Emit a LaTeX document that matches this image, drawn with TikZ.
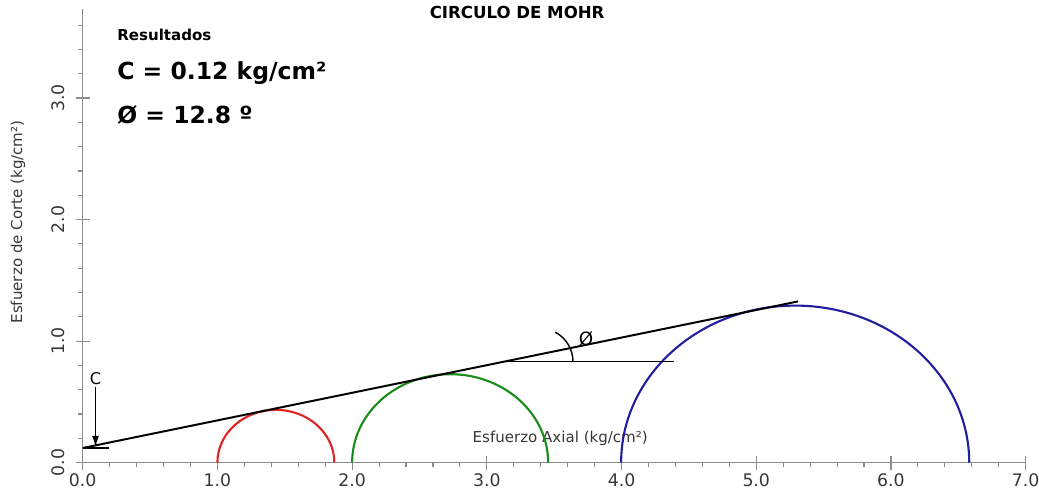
\documentclass[tikz,border=0pt]{standalone}
\usepackage{fontspec}
\setmainfont{DejaVu Sans}
\usetikzlibrary{positioning,arrows.meta}
\definecolor{axisgray}{RGB}{140,140,140}
\definecolor{labgray}{RGB}{55,55,55}
\definecolor{mohrred}{RGB}{225,35,35}
\definecolor{mohrgreen}{RGB}{25,140,25}
\definecolor{mohrblue}{RGB}{35,30,160}
\tikzset{
ticklab/.style={text=labgray,inner sep=0pt,
  font=\fontsize{12.3}{14}\selectfont},
axlab/.style={text=labgray,inner sep=0pt,
  font=\fontsize{10.7}{13}\selectfont},
reslab/.style={inner sep=0pt,anchor=west,
  font=\bfseries\fontsize{16.7}{20}\selectfont},
mohr/.style={line width=1.5pt},
axisline/.style={axisgray,line width=0.8pt}
}

\begin{document}
\begin{tikzpicture}[x=3.3675cm,y=3.0375cm,>={Latex[length=8pt,width=5pt]}]
\useasboundingbox (-0.614,-0.243) rectangle (7.099,3.807);
% axes
\draw[axisline] (0,0) -- (7,0);
\draw[axisline] (0,0) -- (0,3.73);
\foreach \i in {1,...,35}
  \draw[axisline] (\i/5,0) -- ++(0,-3pt);
\foreach \i in {1,...,18}
  \draw[axisline] (0,\i/5) -- ++(-3pt,0);
\foreach \i in {0,...,7}{
  \draw[axisline] (\i,0) ++(0,5pt) -- ++(0,-10pt);
  \node[ticklab] (xt\i) at (\i,-0.144) {\i.0};
}
\foreach \i in {0,...,3}{
  \draw[axisline] (0,\i) ++(5pt,0) -- ++(-10pt,0);
  \node[ticklab,rotate=90] (yt\i) at (-0.182,\i) {\i.0};
}
\node[axlab] (xlab) at (3.545,0.2) {Esfuerzo Axial (kg/cm²)};
\node[axlab,rotate=90] (ylab) at (-0.48,1.98) {Esfuerzo de Corte (kg/cm²)};

% texts
\node[font=\bfseries\fontsize{11.8}{14}\selectfont,inner sep=0pt]
  (title) at (3.225,3.708) {CIRCULO DE MOHR};
\node[font=\bfseries\fontsize{10.7}{13}\selectfont,inner sep=0pt,anchor=west]
  (res) at (0.255,3.518) {Resultados};
\node[reslab] (cval) at (0.255,3.206) {C = 0.12 kg/cm²};
\node[reslab] (phival) at (0.255,2.86) {Ø = 12.8 º};

% circles
\draw[mohr,mohrred] (1.0,0) arc[start angle=180,end angle=0,radius=0.434];
\draw[mohr,mohrgreen] (2.0,0) arc[start angle=180,end angle=0,radius=0.7275];
\draw[mohr,mohrblue] (3.997,0) arc[start angle=180,end angle=0,radius=1.292];

% envelope
\coordinate (e0) at (0,0.12);
\coordinate (e1) at (5.31,{0.12+5.31*0.2272});
\draw[line width=1.4pt] (e0) -- (e1);
\coordinate (c1) at (0.197,0.12);
\draw[line width=1pt] (e0) -- (c1);
\node[axlab,text=black,inner sep=1.5pt,font=\fontsize{11.5}{13}\selectfont]
  (clab) at (0.095,0.695) {C};
\coordinate (ctip) at (0.095,0.128);
\draw[->,line width=1pt] (clab.south) -- (ctip);

% angle
\coordinate (p0) at (3.125,0.83);
\coordinate (p1) at (4.39,0.83);
\coordinate (pc) at (3.391,0.83);
\draw[line width=1pt] (p0) -- (p1);
\draw[line width=1pt] ([xshift=0.8375cm]pc) arc[start angle=0,end angle=62,radius=0.8375cm];
\node[font=\fontsize{13}{15}\selectfont,inner sep=0pt] (philab) at (3.737,1.016) {Ø};
\end{tikzpicture}
\end{document}
